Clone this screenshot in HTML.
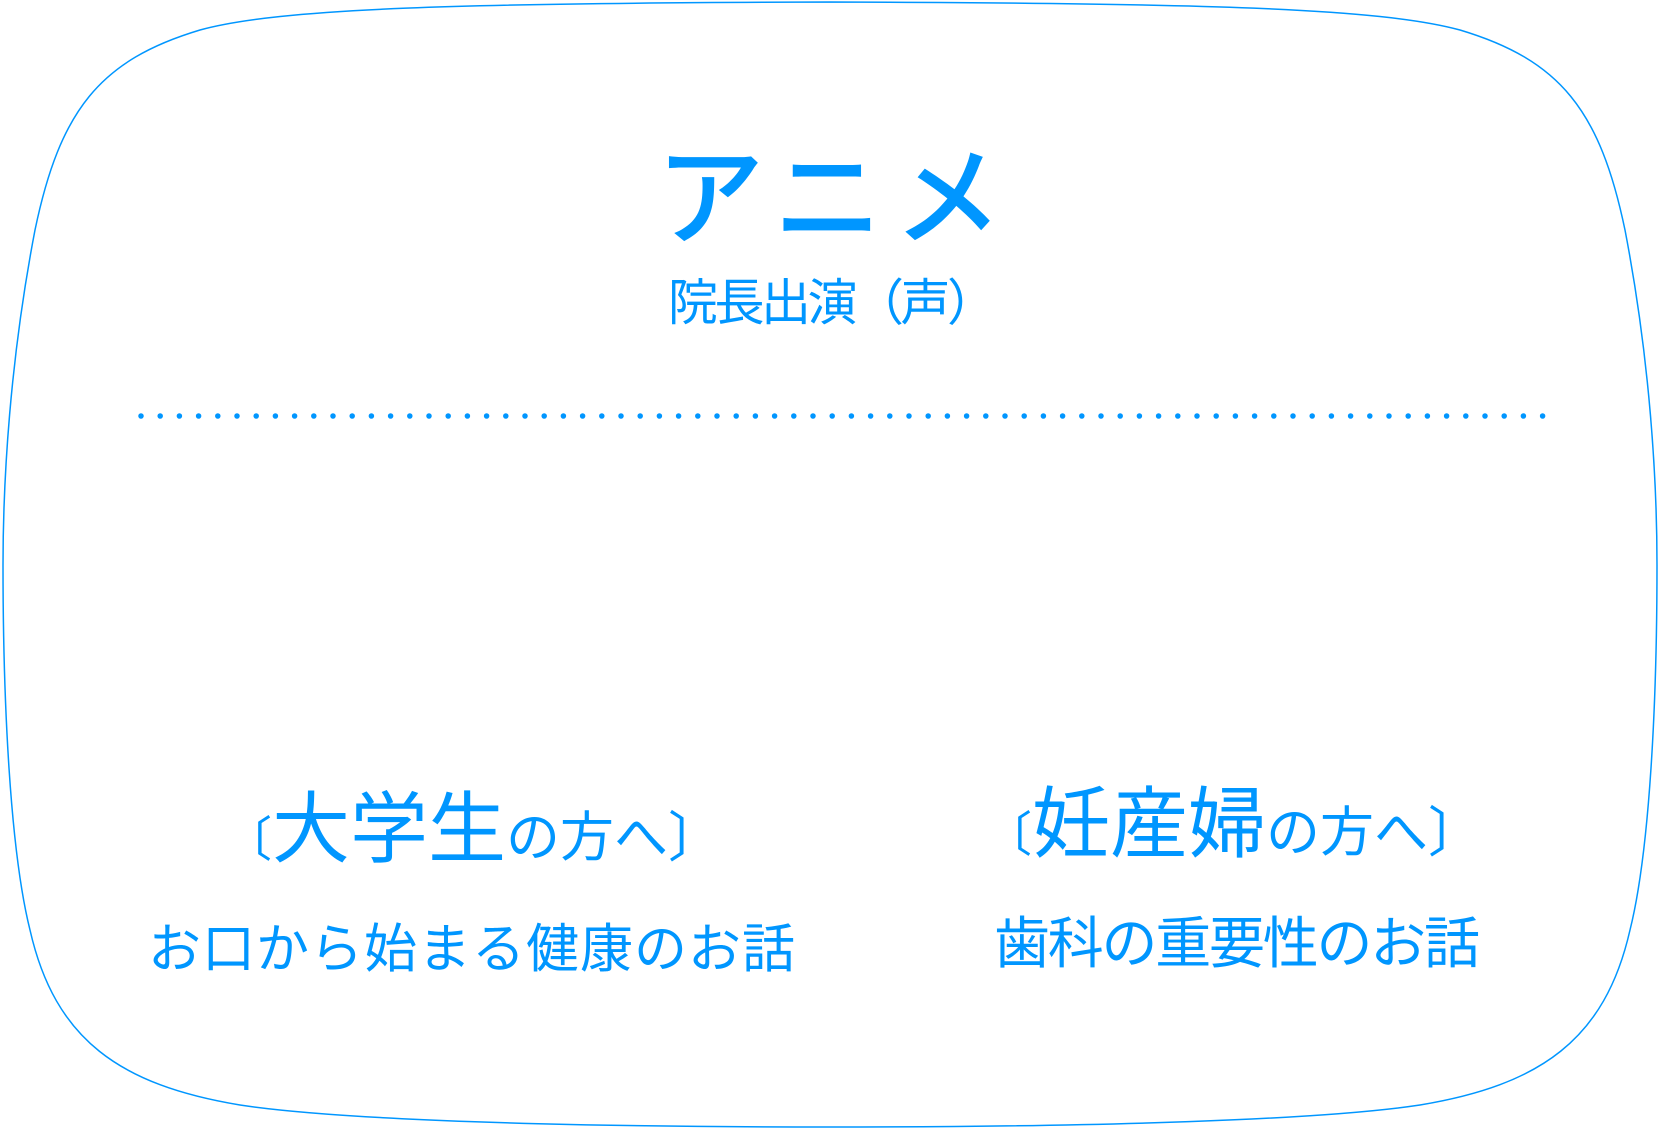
<!DOCTYPE html>
<html><head><meta charset="utf-8"><style>
html,body{margin:0;padding:0;background:#fff;width:1660px;height:1130px;overflow:hidden}
svg{display:block}
text{font-family:"Liberation Sans","Noto Sans CJK JP",sans-serif;fill:#0096ff}
</style></head><body>
<svg width="1660" height="1130" viewBox="0 0 1660 1130" xmlns="http://www.w3.org/2000/svg">
<path d="M830,2 C1200,3 1380,8 1460,30 C1560,60 1600,110 1625,230 C1650,360 1657,480 1657,565 C1657,700 1650,850 1630,930 C1605,1040 1540,1085 1420,1105 C1320,1120 1100,1127 830,1127 C560,1127 340,1120 240,1105 C120,1085 55,1040 30,930 C10,850 3,700 3,565 C3,480 10,360 35,230 C60,110 100,60 200,30 C280,8 460,3 830,2 Z" fill="none" stroke="#0096ff" stroke-width="1.5"/>
<line x1="141" y1="416" x2="1560" y2="416" stroke="#0096ff" stroke-width="5.5" stroke-linecap="round" stroke-dasharray="0 19.2"/>
<text x="835" y="236" font-size="108" text-anchor="middle" font-weight="500" letter-spacing="12">アニメ</text>
<text x="668" y="320" font-size="50" textLength="329">院長出演（声）</text>
<text x="224" y="856"><tspan font-size="48">〔</tspan><tspan font-size="78">大学生</tspan><tspan font-size="54">の方へ〕</tspan></text>
<text x="984" y="851"><tspan font-size="48">〔</tspan><tspan font-size="78">妊産婦</tspan><tspan font-size="54">の方へ〕</tspan></text>
<text x="148" y="967" font-size="53" textLength="647">お口から始まる健康のお話</text>
<text x="994" y="963" font-size="56" textLength="486">歯科の重要性のお話</text>
</svg>
</body></html>
